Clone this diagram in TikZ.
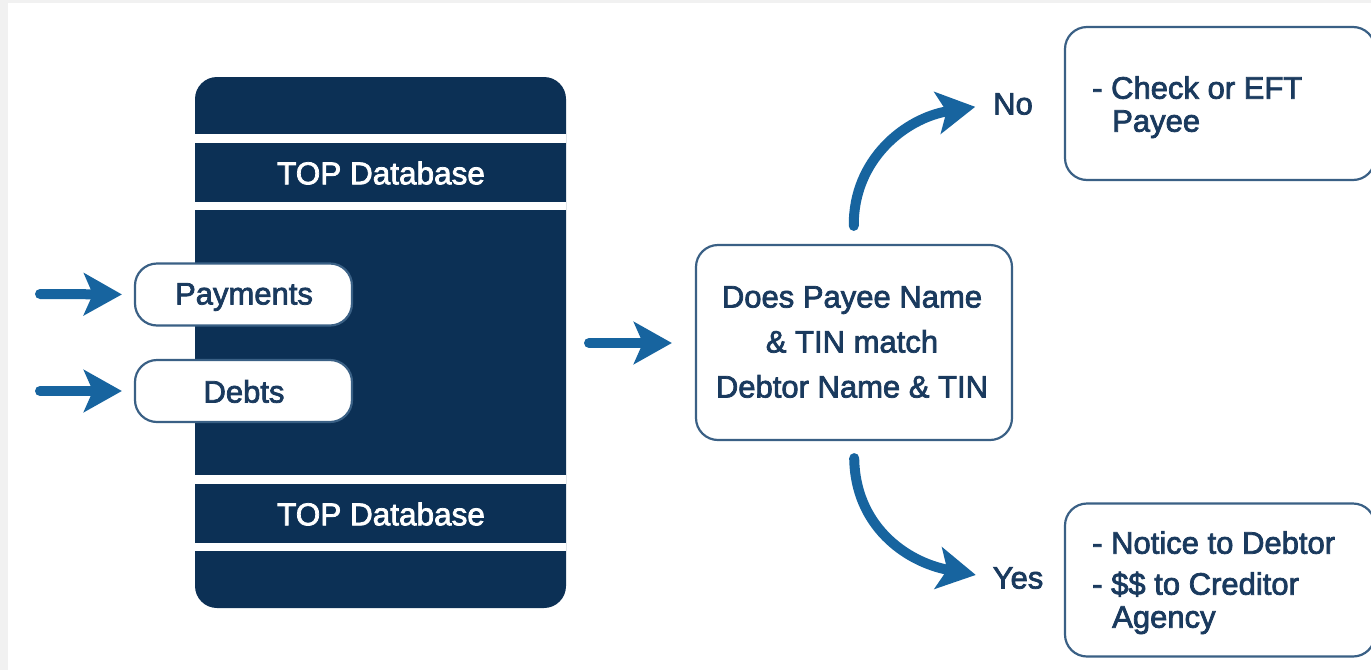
\documentclass[tikz,border=0pt]{standalone}
\usepackage{fontspec}
\setmainfont[FakeBold=2.4]{Liberation Sans}
\usetikzlibrary{arrows.meta}
\definecolor{navy}{HTML}{0C3055}
\definecolor{inkc}{HTML}{1A3A5E}
\definecolor{edgec}{HTML}{3A6085}
\definecolor{flowc}{HTML}{17649F}
\definecolor{stripc}{HTML}{F1F1F1}
\tikzset{
  x=1pt,y=-1pt,
  box/.style={draw=edgec,line width=2.2pt,fill=white,rounded corners=22pt,inner sep=0pt},
  txt/.style={text=inkc,font=\fontsize{31}{33}\selectfont,inner sep=0pt},
  barlabel/.style={text=white,font=\fontsize{31.5}{33}\selectfont,inner sep=0pt},
  bar/.style={fill=white,draw=none},
  flow/.style={draw=flowc,line width=10pt,line cap=round,-{Stealth[length=38pt,width=42pt,inset=9pt,line cap=butt,line join=miter]}},
}
\begin{document}
\begin{tikzpicture}
\useasboundingbox (0,0) rectangle (1371,670);
\fill[white] (0,0) rectangle (1371,670);
\fill[stripc] (0,0) rectangle (1371,3);
\fill[stripc] (0,0) rectangle (8,670);
\begin{scope}
\clip (0,0) rectangle (1371,670);
\fill[navy,rounded corners=22pt] (195,77) rectangle (566,608);
\fill[bar] (195,134) rectangle (566,143);
\fill[bar] (195,202) rectangle (566,210);
\fill[bar] (195,475) rectangle (566,484);
\fill[bar] (195,543) rectangle (566,551);
\node[barlabel] (db1) at (381,173) {TOP Database};
\node[barlabel] (db2) at (381,514) {TOP Database};
\node[box,minimum width=217pt,minimum height=62pt] (pay) at (243.5,294.5) {};
\node[txt] at (244,297) {Payments};
\node[box,minimum width=217pt,minimum height=62pt] (debt) at (243.5,391) {};
\node[txt] at (244,391.5) {Debts};
\node[box,minimum width=316pt,minimum height=195pt,align=center] (dec) at (854,342.5) {};
\node[txt,align=center] at (852,342) {Does Payee Name\\[12pt]\& TIN match\\[12pt]Debtor Name \& TIN};
\node[box,minimum width=310pt,minimum height=153pt] (nobox) at (1220,103.5) {};
\node[box,minimum width=310pt,minimum height=153pt] (yesbox) at (1220,580) {};
\node[txt,anchor=north west,align=left] (notxt) at (1092,76) {- Check or EFT\\\hspace*{20pt}Payee};
\node[txt,anchor=north west,align=left] (yestxt) at (1092,531) {- Notice to Debtor\\[8pt]- \$\$ to Creditor\\\hspace*{20pt}Agency};
\end{scope}
\node[txt] (no) at (1013,104) {No};
\node[txt] (yes) at (1018,578) {Yes};
\coordinate (payin) at (40,294);
\coordinate (debtin) at (40,391);
\coordinate (panelout) at (589,343);
\draw[flow,shorten >=12pt] (payin) -- (pay.west);
\draw[flow,shorten >=12pt] (debtin) -- (debt.west);
\draw[flow,shorten >=23pt] (panelout) -- (dec.west |- panelout);
\draw[flow,shorten <=18pt,shorten >=18pt] (dec.north) .. controls (853,160) and (905,118) .. (no.west);
\draw[flow,shorten <=17pt,shorten >=17pt] (dec.south) .. controls (855,525) and (905,562) .. (yes.west);
\end{tikzpicture}
\end{document}
